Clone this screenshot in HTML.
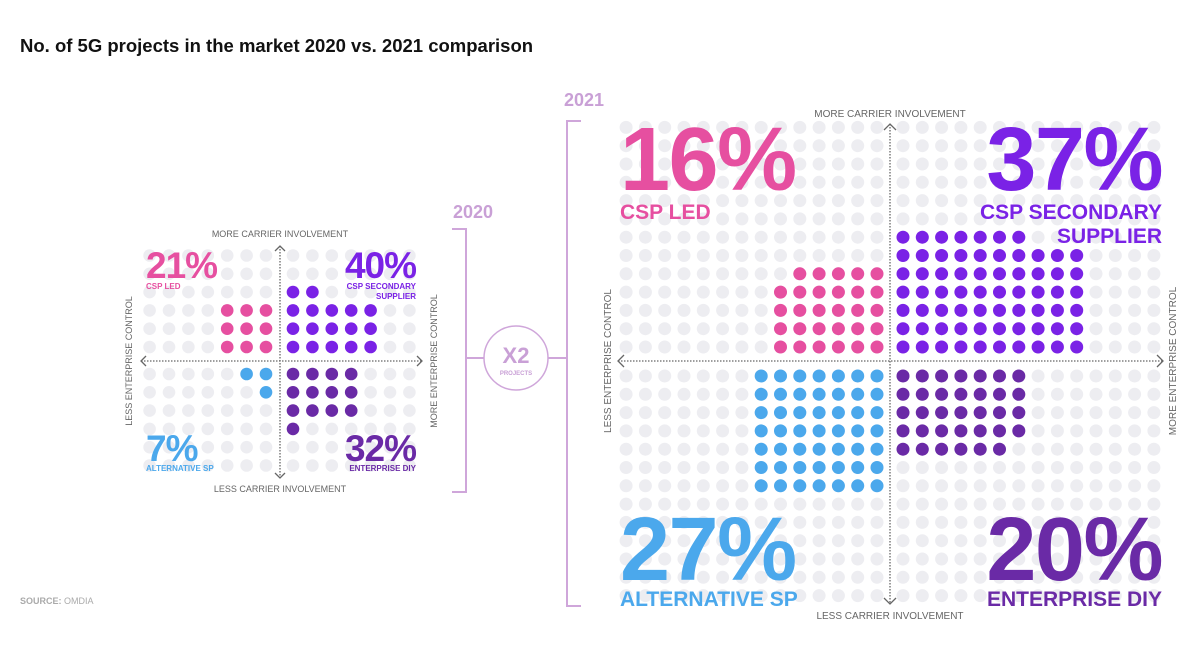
<!DOCTYPE html>
<html><head><meta charset="utf-8">
<style>
html,body{margin:0;padding:0;background:#fff;}
svg{display:block;font-family:"Liberation Sans",sans-serif;}
</style></head>
<body>
<svg id="chart" width="1194" height="672" viewBox="0 0 1194 672" xmlns="http://www.w3.org/2000/svg">
<text x="20" y="52" font-size="18.5" font-weight="bold" fill="#111">No. of 5G projects in the market 2020 vs. 2021 comparison</text>
<text x="20" y="604" font-size="9" fill="#aaa"><tspan font-weight="bold">SOURCE:</tspan> OMDIA</text>
<g stroke="#cfa6da" stroke-width="2" fill="none">
<path d="M452 229 H466 V492 H452"/>
<line x1="466" y1="358" x2="484" y2="358"/>
</g>
<text x="453" y="218" font-size="18" font-weight="bold" fill="#c9a0d6">2020</text>
<g stroke="#cfa6da" stroke-width="2" fill="none">
<path d="M581 121 H567 V606 H581"/>
<line x1="548" y1="358" x2="567" y2="358"/>
</g>
<text x="564" y="106" font-size="18" font-weight="bold" fill="#c9a0d6">2021</text>
<g>
<circle cx="516" cy="358" r="32" fill="#fff" stroke="#cfa6da" stroke-width="1.5"/>
<text x="516" y="363" text-anchor="middle" font-size="22" font-weight="bold" fill="#c9a0d6">X2</text>
<text x="516" y="375" text-anchor="middle" font-size="6" font-weight="bold" fill="#c9a0d6">PROJECTS</text>
</g>
<g id="p2020"></g>
<g id="p2021"></g>
</svg>
<script>
// Quadrant order: CSP LED (top-left), CSP Secondary Supplier (top-right), Alternative SP (bottom-left), Enterprise DIY (bottom-right)
const categories = ["CSP LED", "CSP SECONDARY SUPPLIER", "ALTERNATIVE SP", "ENTERPRISE DIY"];
const pct2020 = [21, 40, 7, 32];
const pct2021 = [16, 37, 27, 20];
const dots2020 = [9, 17, 3, 13];
const dots2021 = [29, 67, 49, 34];
const colors = ["#e64fa0", "#7a22e6", "#4ba8ec", "#6a2aa6"];

const NS = "http://www.w3.org/2000/svg";
function mk(tag, attrs, parent) {
  const e = document.createElementNS(NS, tag);
  for (const k in attrs) e.setAttribute(k, attrs[k]);
  parent.appendChild(e);
  return e;
}

function panel(g, cfg, pcts, dots, year) {
  const bg = mk("g", {}, g);
  
  
  const colX = k => (k < 0 ? cfg.lf + (k + 1) * cfg.dx : cfg.rf + k * cfg.dx);
  const rowY = r => (r < 0 ? cfg.uf + (r + 1) * cfg.dy : cfg.df + r * cfg.dy);
  for (let c = -cfg.nc; c < cfg.nc; c++) for (let r = -cfg.nr; r < cfg.nr; r++) {
    mk("circle", {cx: colX(c), cy: rowY(r), r: cfg.rad, fill: "#ededf1"}, bg);
  }
  const xs = [-1, 1, -1, 1], ys = [-1, -1, 1, 1];
  dots.forEach((n, q) => {
    const grp = mk("g", {}, g);
    
    
    const w = cfg.widths[q];
    for (let i = 0; i < n; i++) {
      const row = Math.floor(i / w), col = i % w;
      const cx = xs[q] < 0 ? cfg.lf - col * cfg.dx : cfg.rf + col * cfg.dx;
      const cy = ys[q] < 0 ? cfg.uf - row * cfg.dy : cfg.df + row * cfg.dy;
      const d = mk("circle", {cx: cx, cy: cy, r: cfg.rad, fill: colors[q]}, grp);
      
      
    }
  });
  const ax = mk("g", {stroke: "#666", "stroke-width": 1.3, fill: "none"}, g);
  
  
  mk("line", {x1: cfg.ax, y1: cfg.vt, x2: cfg.ax, y2: cfg.vb, "stroke-dasharray": "1.5 1.5"}, ax);
  mk("line", {x1: cfg.hl, y1: cfg.ay, x2: cfg.hr, y2: cfg.ay, "stroke-dasharray": "1.5 1.5"}, ax);
  const a = cfg.arr;
  mk("path", {d: `M${cfg.ax - a} ${cfg.vt + a} L${cfg.ax} ${cfg.vt} L${cfg.ax + a} ${cfg.vt + a}`}, ax);
  mk("path", {d: `M${cfg.ax - a} ${cfg.vb - a} L${cfg.ax} ${cfg.vb} L${cfg.ax + a} ${cfg.vb - a}`}, ax);
  mk("path", {d: `M${cfg.hl + a} ${cfg.ay - a} L${cfg.hl} ${cfg.ay} L${cfg.hl + a} ${cfg.ay + a}`}, ax);
  mk("path", {d: `M${cfg.hr - a} ${cfg.ay - a} L${cfg.hr} ${cfg.ay} L${cfg.hr - a} ${cfg.ay + a}`}, ax);
  const lab = (txt, x, y, rot, name) => {
    const t = mk("text", {x: x, y: y, "text-anchor": "middle", "font-size": cfg.axf, fill: "#666"}, g);
    if (rot) t.setAttribute("transform", `rotate(-90 ${x} ${y})`);
    t.textContent = txt;
    
    
  };
  lab("MORE CARRIER INVOLVEMENT", cfg.ax, cfg.topLab, false, 'axis-label-top');
  lab("LESS CARRIER INVOLVEMENT", cfg.ax, cfg.botLab, false, 'axis-label-bottom');
  lab("LESS ENTERPRISE CONTROL", cfg.leftLab, cfg.ay, true, 'axis-label-left');
  lab("MORE ENTERPRISE CONTROL", cfg.rightLab, cfg.ay, true, 'axis-label-right');
  const anchors = ["start", "end", "start", "end"];
  pcts.forEach((p, q) => {
    const x = q % 2 === 0 ? cfg.tl : cfg.tr;
    const y = q < 2 ? cfg.pyTop : cfg.pyBot;
    const t = mk("text", {x: x, y: y, "text-anchor": anchors[q], "font-size": cfg.pf, "font-weight": "bold", fill: colors[q], "letter-spacing": cfg.pls}, g);
    t.textContent = p + "%";
    
    
    let lines = [categories[q]];
    if (q === 1) lines = ["CSP SECONDARY", "SUPPLIER"];
    lines.forEach((ln, li) => {
      const c = mk("text", {x: x, y: (q < 2 ? cfg.cyTop : cfg.cyBot) + li * cfg.clh, "text-anchor": anchors[q], "font-size": cfg.cf, "font-weight": "bold", fill: colors[q]}, g);
      c.textContent = ln;
      
      
    });
  });
}

panel(document.getElementById("p2020"), {
  lf: 266, rf: 293, dx: 19.4, uf: 347, df: 374, dy: 18.3, nc: 7, nr: 6, rad: 6.3,
  widths: [3, 5, 2, 4],
  ax: 280, ay: 361, vt: 246, vb: 478, hl: 141, hr: 422, arr: 5,
  axf: 9, topLab: 237, botLab: 492, leftLab: 132, rightLab: 437,
  tl: 146, tr: 416, pyTop: 278, pyBot: 461, pf: 37, pls: -1,
  cyTop: 289, cyBot: 471, cf: 8, clh: 10
}, pct2020, dots2020, 2020);

panel(document.getElementById("p2021"), {
  lf: 877, rf: 903, dx: 19.3, uf: 347, df: 376, dy: 18.3, nc: 14, nr: 13, rad: 6.5,
  widths: [6, 10, 7, 7],
  ax: 890, ay: 361, vt: 124, vb: 604, hl: 618, hr: 1163, arr: 6,
  axf: 10, topLab: 117, botLab: 619, leftLab: 611, rightLab: 1176,
  tl: 620, tr: 1162, pyTop: 190, pyBot: 580, pf: 90, pls: -1.5,
  cyTop: 219, cyBot: 606, cf: 21, clh: 24
}, pct2021, dots2021, 2021);
</script>
</body></html>
